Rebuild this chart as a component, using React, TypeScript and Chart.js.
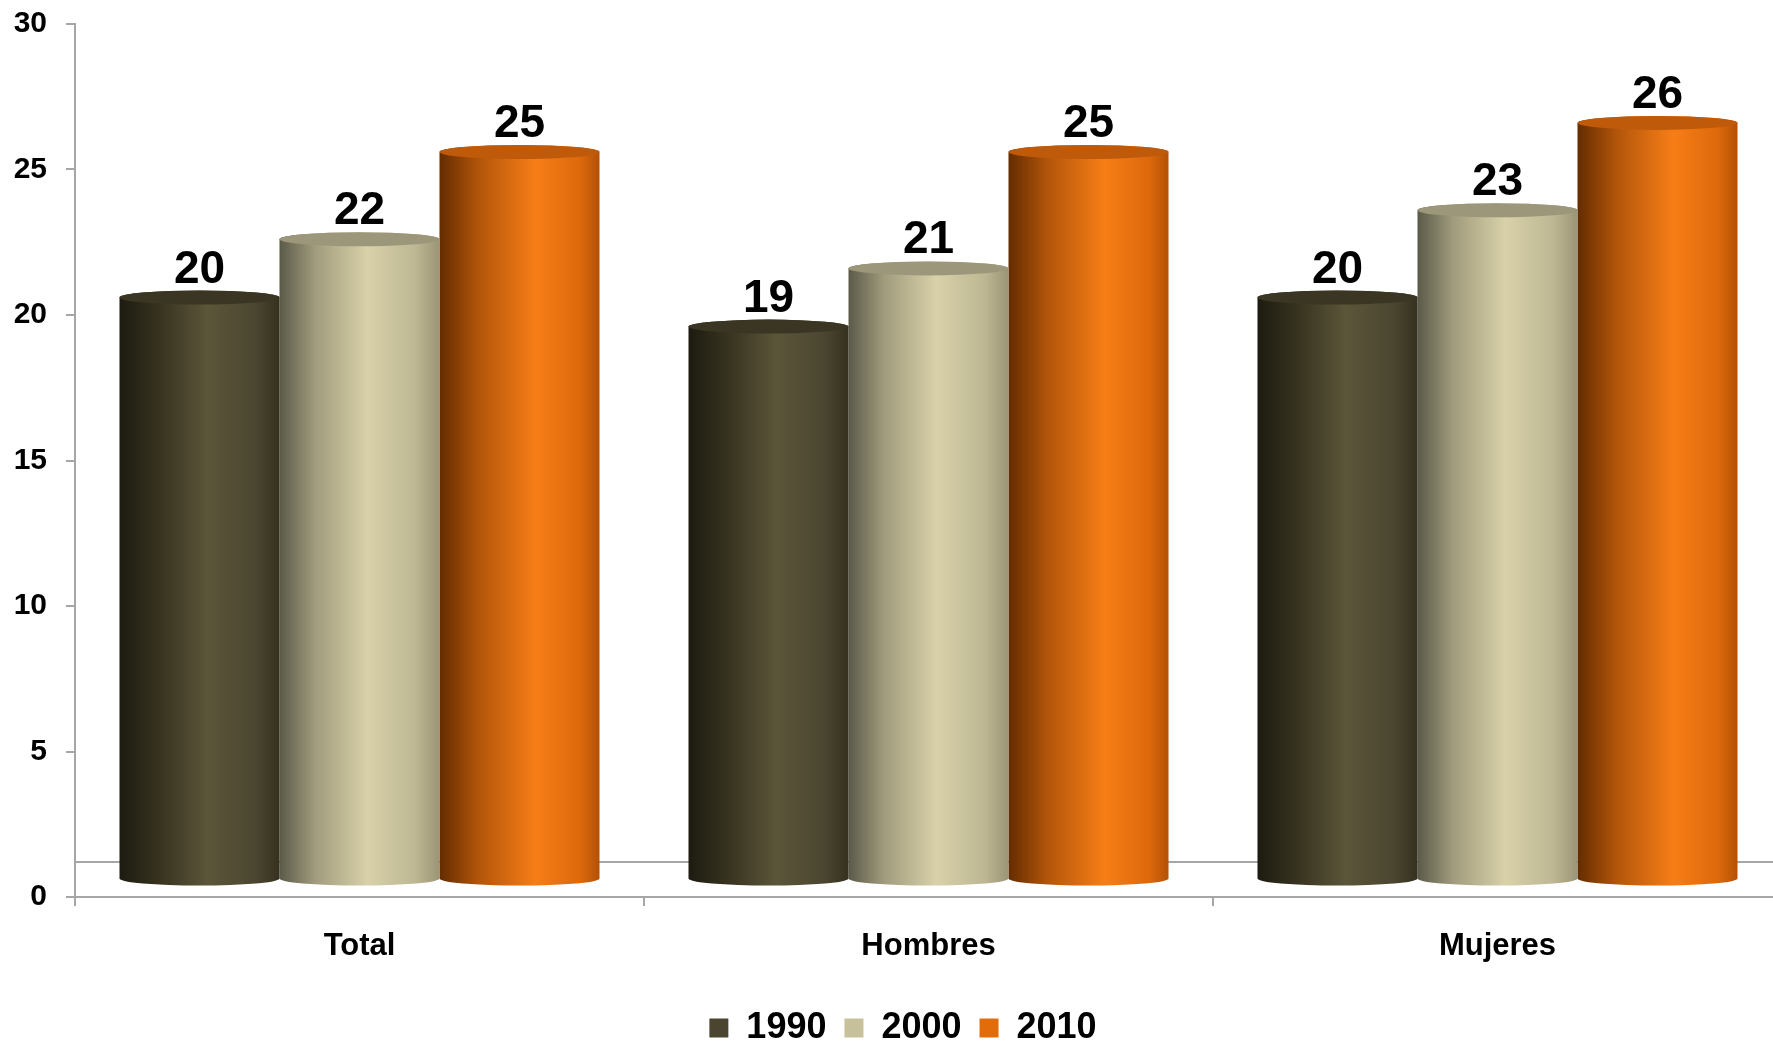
import { useEffect, useRef } from "react";
import { Chart, registerables } from "chart.js";

Chart.register(...registerables);

// Data
const categories = ["Total", "Hombres", "Mujeres"];
const seriesNames = ["1990", "2000", "2010"];
const values1990 = [20, 19, 20];
const values2000 = [22, 21, 23];
const values2010 = [25, 25, 26];
const yTickValues = [0, 5, 10, 15, 20, 25, 30];

// Styling
const FONT = "'Liberation Sans', Arial, Helvetica, sans-serif";
const AXIS_GREY = "#a6a6a6";
const legendColors = ["#4b4530", "#c6c09b", "#e36c0a"];
const bodyStops: [number, string][][] = [
  [[0, "#1d1b11"], [0.25, "#37331f"], [0.55, "#5b5539"], [0.85, "#4b4630"], [1, "#35311f"]],
  [[0, "#5b5a49"], [0.22, "#a09b7c"], [0.55, "#d8d1a9"], [0.85, "#bdb793"], [1, "#9b9576"]],
  [[0, "#642c00"], [0.25, "#b4560a"], [0.6, "#f77d16"], [0.88, "#dd690c"], [1, "#b35106"]],
];
const capColors = ["#3a3623", "#9c967a", "#c05a0b"];
const DEPTH = 35; // depth of the 3D floor in pixels
const LIFT = DEPTH / 2; // cylinders stand in the middle of the floor
const CAP_RY = 7;
const LEGEND_SHIFT = 12;

const floorPlugin = {
  id: "floorLine",
  beforeDatasetsDraw(chart: any) {
    const { ctx, chartArea } = chart;
    const y = chartArea.bottom - DEPTH;
    ctx.save();
    ctx.strokeStyle = AXIS_GREY;
    ctx.lineWidth = 2;
    ctx.beginPath();
    ctx.moveTo(chartArea.left, y);
    ctx.lineTo(chartArea.right, y);
    ctx.stroke();
    ctx.restore();
  },
};

// Nudges the legend row slightly to the right of the canvas centre
const legendShiftPlugin = {
  id: "legendShift",
  afterLayout(chart: any) {
    const lg = chart.legend;
    if (lg) {
      lg.left += LEGEND_SHIFT;
      lg.right += LEGEND_SHIFT;
    }
  },
};

const cylinderPlugin = {
  id: "cylinders",
  beforeDatasetDraw(chart: any, args: any) {
    const { ctx } = chart;
    const di = args.index;
    const meta = args.meta;
    meta.data.forEach((el: any) => {
      const { x, y, base, width } = el.getProps(["x", "y", "base", "width"], true);
      const rx = width / 2;
      const left = x - rx;
      const right = x + rx;
      const top = y - LIFT;
      const bottom = base - LIFT;
      const grad = ctx.createLinearGradient(left, 0, right, 0);
      bodyStops[di].forEach(([o, c]) => grad.addColorStop(o, c));
      ctx.save();
      ctx.beginPath();
      ctx.moveTo(left, top);
      ctx.lineTo(left, bottom);
      ctx.ellipse(x, bottom, rx, CAP_RY, 0, Math.PI, 0, true);
      ctx.lineTo(right, top);
      ctx.ellipse(x, top, rx, CAP_RY, 0, 0, Math.PI, true);
      ctx.closePath();
      ctx.fillStyle = grad;
      ctx.fill();
      ctx.beginPath();
      ctx.ellipse(x, top, rx, CAP_RY, 0, 0, Math.PI * 2);
      ctx.fillStyle = capColors[di];
      ctx.fill();
      ctx.restore();
    });
    return false;
  },
};

const valueLabelPlugin = {
  id: "valueLabels",
  afterDatasetsDraw(chart: any) {
    const { ctx } = chart;
    ctx.save();
    ctx.font = `bold 46px ${FONT}`;
    ctx.fillStyle = "#000000";
    ctx.textAlign = "center";
    ctx.textBaseline = "alphabetic";
    chart.data.datasets.forEach((ds: any, di: number) => {
      const meta = chart.getDatasetMeta(di);
      meta.data.forEach((el: any, i: number) => {
        const { x, y } = el.getProps(["x", "y"], true);
        ctx.fillText(String(ds.data[i]), x, y - LIFT - 31 + 16);
      });
    });
    ctx.restore();
  },
};

export default function App() {
  const canvasRef = useRef<HTMLCanvasElement | null>(null);

  useEffect(() => {
    const canvas = canvasRef.current;
    if (!canvas) return;
    const chart = new Chart(canvas, {
      type: "bar",
      data: {
        labels: categories,
        datasets: [values1990, values2000, values2010].map((vals, i) => ({
          label: seriesNames[i],
          data: vals,
          backgroundColor: legendColors[i],
          borderWidth: 0,
          barPercentage: 1,
          categoryPercentage: 0.8436,
        })),
      },
      options: {
        responsive: false,
        animation: false,
        devicePixelRatio: 1,
        events: [],
        layout: { padding: { left: 0, top: 24, right: 18, bottom: 0 } },
        plugins: {
          tooltip: { enabled: false },
          legend: {
            position: "bottom",
            labels: {
              boxWidth: 19,
              boxHeight: 19,
              padding: 18,
              color: "#000000",
              font: { family: FONT, size: 36, weight: "bold" },
            },
          },
        },
        scales: {
          x: {
            afterFit: (s: any) => {
              s.height = 95;
              s.paddingLeft = 0;
              s.paddingRight = 0;
            },
            grid: {
              drawOnChartArea: false,
              tickLength: 9,
              color: AXIS_GREY,
              lineWidth: 2,
            },
            border: { display: true, color: AXIS_GREY, width: 2 },
            ticks: {
              padding: 22,
              color: "#000000",
              font: { family: FONT, size: 31, weight: "bold" },
            },
          },
          y: {
            min: 0,
            max: 30,
            afterFit: (s: any) => {
              s.width = 75;
              s.paddingTop = 0;
              s.paddingBottom = 0;
            },
            afterBuildTicks: (s: any) => {
              s.ticks = yTickValues.map((v) => ({ value: v }));
            },
            grid: {
              drawOnChartArea: false,
              tickLength: 9,
              color: AXIS_GREY,
              lineWidth: 2,
            },
            border: { display: true, color: AXIS_GREY, width: 2 },
            ticks: {
              padding: 19,
              color: "#000000",
              font: { family: FONT, size: 30, weight: "bold" },
            },
          },
        },
      },
      plugins: [floorPlugin, legendShiftPlugin, cylinderPlugin, valueLabelPlugin],
    } as any);
    return () => chart.destroy();
  }, []);

  return (
    <div
      style={{
        position: "fixed",
        left: 0,
        top: 0,
        width: 1773,
        height: 1041,
        overflow: "hidden",
        background: "#ffffff",
      }}
    >
      <canvas
        ref={canvasRef}
        width={1800}
        height={1056}
        style={{ display: "block", width: 1800, height: 1056 }}
      />
    </div>
  );
}
